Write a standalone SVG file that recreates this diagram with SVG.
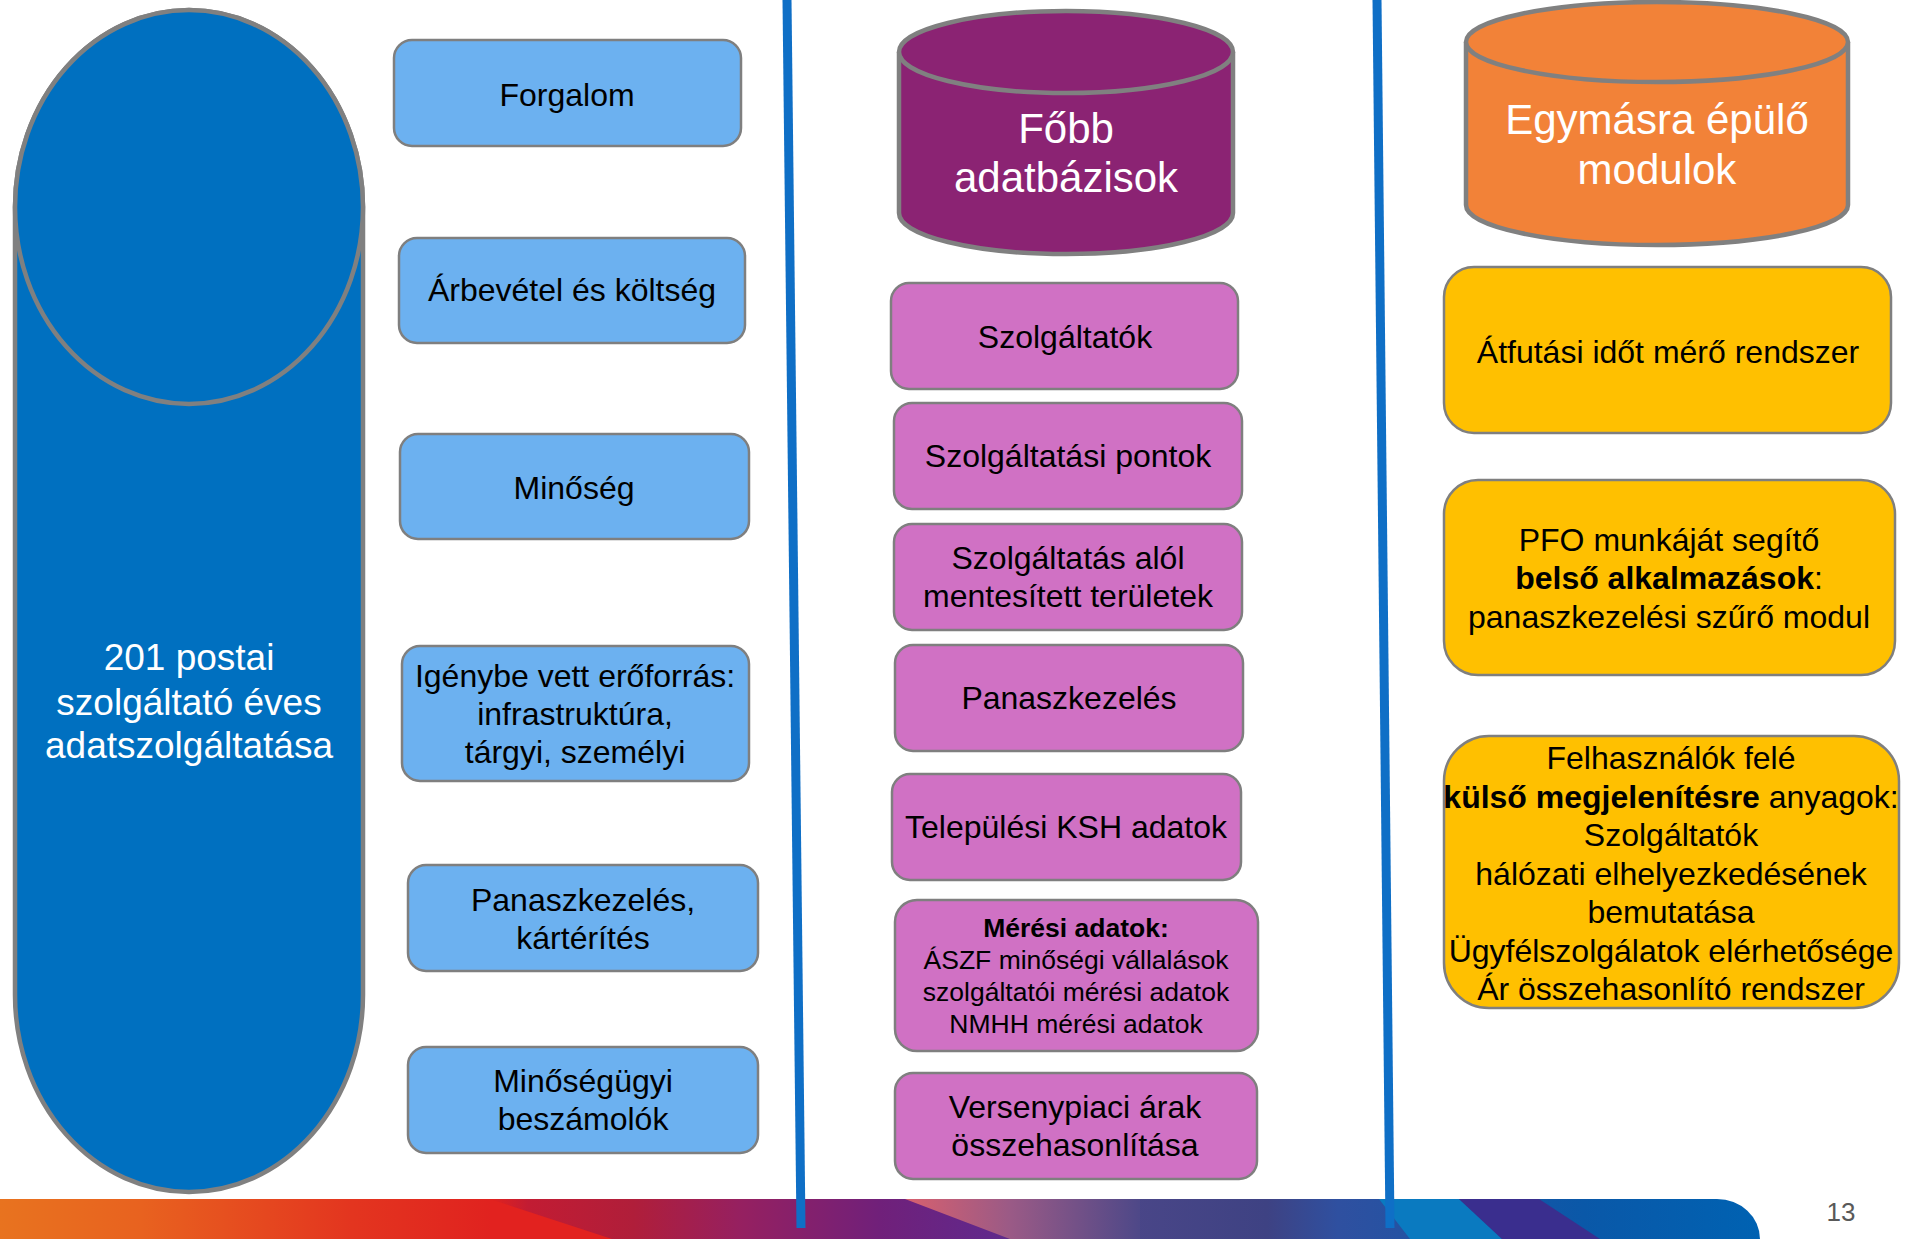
<svg xmlns="http://www.w3.org/2000/svg" width="1912" height="1239" viewBox="0 0 1912 1239">
<defs>
<style>
text{font-family:"Liberation Sans",Arial,sans-serif;text-anchor:middle}
.blue{fill:#6CB1F0;stroke:#7F7F7F;stroke-width:2.5}
.mag{fill:#D071C4;stroke:#7F7F7F;stroke-width:2.5}
.yel{fill:#FFC000;stroke:#7F7F7F;stroke-width:2.5}
.t32{font-size:32px;fill:#000}
.t26{font-size:26.5px;fill:#000}
.w42{font-size:42px;fill:#fff}
.w37{font-size:37px;fill:#fff}
.b{font-weight:bold}
.sep{stroke:#0F6FC6;stroke-width:9;fill:none}
</style>
<linearGradient id="band" x1="0" y1="0" x2="1760" y2="0" gradientUnits="userSpaceOnUse">
<stop offset="0" stop-color="#E8731F"/>
<stop offset="0.08" stop-color="#E8621F"/>
<stop offset="0.2" stop-color="#E3351F"/>
<stop offset="0.28" stop-color="#E0221F"/>
<stop offset="0.3" stop-color="#C21C33"/>
<stop offset="0.36" stop-color="#B01E3A"/>
<stop offset="0.42" stop-color="#962060"/>
<stop offset="0.5" stop-color="#70207A"/>
<stop offset="0.56" stop-color="#62288A"/>
<stop offset="0.64" stop-color="#4A4688"/>
<stop offset="0.72" stop-color="#3E4283"/>
<stop offset="0.76" stop-color="#2F50A0"/>
<stop offset="0.9" stop-color="#0A58A8"/>
<stop offset="1" stop-color="#0062B2"/>
</linearGradient>
<linearGradient id="pink" x1="905" y1="0" x2="1140" y2="0" gradientUnits="userSpaceOnUse">
<stop offset="0" stop-color="#D8606E"/>
<stop offset="0.45" stop-color="#9A5A86"/>
<stop offset="1" stop-color="#4E4888"/>
</linearGradient>
</defs>

<rect x="0" y="0" width="1912" height="1239" fill="#FFFFFF"/>

<g id="bottom-band">
<path d="M0,1199 L1717,1199 A43,40 0 0 1 1760,1239 L0,1239 Z" fill="url(#band)"/>
<polygon points="490,1199 612,1239 490,1239" fill="#E2221F"/>
<polygon points="905,1199 1140,1199 1140,1239 1010,1239" fill="url(#pink)"/>
<polygon points="1379,1199 1459,1199 1502,1239 1410,1239" fill="#0A7AC0"/>
<polygon points="1459,1199 1539,1199 1600,1239 1502,1239" fill="#3A2E8E"/>
<text x="1841" y="1221" style="font-size:26px;fill:#595959">13</text>
</g>

<g id="separators">
<line class="sep" x1="787" y1="0" x2="801" y2="1228"/>
<line class="sep" x1="1377" y1="0" x2="1390" y2="1228"/>
</g>

<g id="connectors"></g>

<g id="source">
<path d="M15,207 A174,197 0 0 1 363,207 L363,995 A174,197 0 0 1 15,995 Z" fill="#0070C0" stroke="#808080" stroke-width="4.5"/>
<ellipse cx="189" cy="207" rx="174" ry="197" fill="#0070C0" stroke="#808080" stroke-width="4.5"/>
<text class="w37" x="189" y="670">201 postai</text>
<text class="w37" x="189" y="715">szolgáltató éves</text>
<text class="w37" x="189" y="758">adatszolgáltatása</text>
</g>

<g id="b-forgalom">
<rect class="blue" x="394" y="40" width="347" height="106" rx="18"/>
<text class="t32" x="567" y="106">Forgalom</text>
</g>
<g id="b-arbevetel">
<rect class="blue" x="399" y="238" width="346" height="105" rx="18"/>
<text class="t32" x="572" y="301">Árbevétel és költség</text>
</g>
<g id="b-minoseg">
<rect class="blue" x="400" y="434" width="349" height="105" rx="18"/>
<text class="t32" x="574" y="499">Minőség</text>
</g>
<g id="b-igenybe">
<rect class="blue" x="402" y="646" width="347" height="135" rx="18"/>
<text class="t32" x="575" y="687">Igénybe vett erőforrás:</text>
<text class="t32" x="575" y="725">infrastruktúra,</text>
<text class="t32" x="575" y="763">tárgyi, személyi</text>
</g>
<g id="b-panasz">
<rect class="blue" x="408" y="865" width="350" height="106" rx="18"/>
<text class="t32" x="583" y="911">Panaszkezelés,</text>
<text class="t32" x="583" y="949">kártérítés</text>
</g>
<g id="b-minosegugyi">
<rect class="blue" x="408" y="1047" width="350" height="106" rx="18"/>
<text class="t32" x="583" y="1092">Minőségügyi</text>
<text class="t32" x="583" y="1130">beszámolók</text>
</g>

<g id="db-header">
<path d="M899,52 L899,213 A167,41 0 0 0 1233,213 L1233,52" fill="#8B2373" stroke="#808080" stroke-width="4.5"/>
<ellipse cx="1066" cy="52" rx="167" ry="41" fill="#8B2373" stroke="#808080" stroke-width="4.5"/>
<text class="w42" x="1066" y="143">Főbb</text>
<text class="w42" x="1066" y="192">adatbázisok</text>
</g>

<g id="m-szolgaltatok">
<rect class="mag" x="891" y="283" width="347" height="106" rx="18"/>
<text class="t32" x="1065" y="348">Szolgáltatók</text>
</g>
<g id="m-pontok">
<rect class="mag" x="894" y="403" width="348" height="106" rx="18"/>
<text class="t32" x="1068" y="467">Szolgáltatási pontok</text>
</g>
<g id="m-mentesitett">
<rect class="mag" x="894" y="524" width="348" height="106" rx="18"/>
<text class="t32" x="1068" y="569">Szolgáltatás alól</text>
<text class="t32" x="1068" y="607">mentesített területek</text>
</g>
<g id="m-panasz">
<rect class="mag" x="895" y="645" width="348" height="106" rx="18"/>
<text class="t32" x="1069" y="709">Panaszkezelés</text>
</g>
<g id="m-ksh">
<rect class="mag" x="892" y="774" width="349" height="106" rx="18"/>
<text class="t32" x="1066" y="838">Települési KSH adatok</text>
</g>
<g id="m-meresi">
<rect class="mag" x="895" y="900" width="363" height="151" rx="22"/>
<text class="t26 b" x="1076" y="937">Mérési adatok:</text>
<text class="t26" x="1076" y="969">ÁSZF minőségi vállalások</text>
<text class="t26" x="1076" y="1001">szolgáltatói mérési adatok</text>
<text class="t26" x="1076" y="1033">NMHH mérési adatok</text>
</g>
<g id="m-verseny">
<rect class="mag" x="895" y="1073" width="362" height="106" rx="18"/>
<text class="t32" x="1075" y="1118">Versenypiaci árak</text>
<text class="t32" x="1075" y="1156">összehasonlítása</text>
</g>

<g id="mod-header">
<path d="M1466,42 L1466,205 A191,40 0 0 0 1848,205 L1848,42" fill="#F28238" stroke="#808080" stroke-width="4.5"/>
<ellipse cx="1657" cy="42" rx="191" ry="40" fill="#F28238" stroke="#808080" stroke-width="4.5"/>
<text class="w42" x="1657" y="134">Egymásra épülő</text>
<text class="w42" x="1657" y="184">modulok</text>
</g>

<g id="y-atfutasi">
<rect class="yel" x="1444" y="267" width="447" height="166" rx="30"/>
<text class="t32" x="1668" y="363">Átfutási időt mérő rendszer</text>
</g>
<g id="y-pfo">
<rect class="yel" x="1444" y="480" width="451" height="195" rx="34"/>
<text class="t32" x="1669" y="551">PFO munkáját segítő</text>
<text class="t32" x="1669" y="589"><tspan class="b">belső alkalmazások</tspan>:</text>
<text class="t32" x="1669" y="628">panaszkezelési szűrő modul</text>
</g>
<g id="y-kulso">
<rect class="yel" x="1444" y="736" width="455" height="272" rx="45"/>
<text class="t32" x="1671" y="769">Felhasználók felé</text>
<text class="t32" x="1671" y="808"><tspan class="b">külső megjelenítésre</tspan> anyagok:</text>
<text class="t32" x="1671" y="846">Szolgáltatók</text>
<text class="t32" x="1671" y="885">hálózati elhelyezkedésének</text>
<text class="t32" x="1671" y="923">bemutatása</text>
<text class="t32" x="1671" y="962">Ügyfélszolgálatok elérhetősége</text>
<text class="t32" x="1671" y="1000">Ár összehasonlító rendszer</text>
</g>
</svg>
